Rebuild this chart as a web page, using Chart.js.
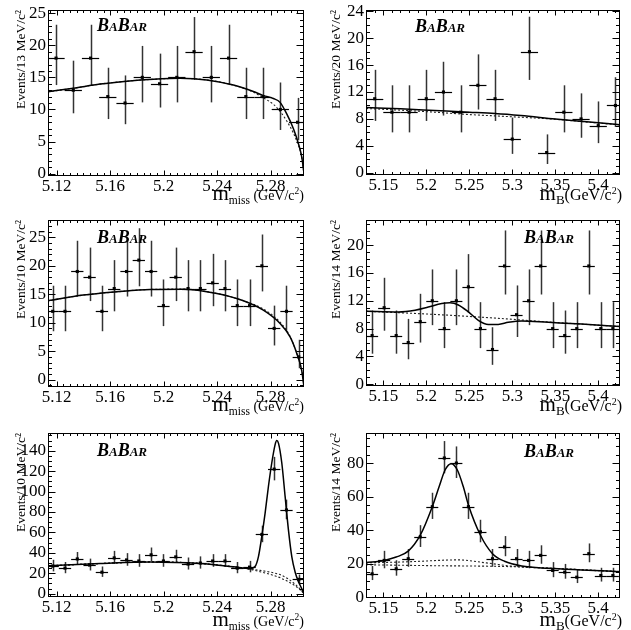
<!DOCTYPE html>
<html>
<head>
<meta charset="utf-8">
<script src="https://cdn.jsdelivr.net/npm/chart.js@4.4.1/dist/chart.umd.min.js"></script>
<style>
  body { margin: 0; background: #fff; }
  #wrap { position: relative; width: 631px; height: 630px; background: #fff; }
  canvas { position: absolute; }
</style>
</head>
<body>
<div id="wrap">
  <canvas id="c1" width="315" height="210" style="left:0;top:0"></canvas>
  <canvas id="c2" width="316" height="210" style="left:315px;top:0"></canvas>
  <canvas id="c3" width="315" height="210" style="left:0;top:210px"></canvas>
  <canvas id="c4" width="316" height="210" style="left:315px;top:210px"></canvas>
  <canvas id="c5" width="315" height="210" style="left:0;top:420px"></canvas>
  <canvas id="c6" width="316" height="210" style="left:315px;top:420px"></canvas>
</div>
<script>
// tick labels
const missTicks = [5.12, 5.16, 5.2, 5.24, 5.28];
const mbTicks = [5.15, 5.2, 5.25, 5.3, 5.35, 5.4];
const p1YTicks = [0, 5, 10, 15, 20, 25];
const p2YTicks = [0, 4, 8, 12, 16, 20, 24];
const p3YTicks = [0, 5, 10, 15, 20, 25];
const p4YTicks = [0, 4, 8, 12, 16, 20];
const p5YTicks = [0, 20, 40, 60, 80, 100, 120, 140];
const p6YTicks = [0, 20, 40, 60, 80];

// top left: m_miss, 13 MeV bins
const p1X = [5.1195, 5.1324, 5.1453, 5.1582, 5.1711, 5.1840, 5.1969, 5.2098, 5.2227, 5.2356, 5.2485, 5.2614, 5.2743, 5.2872, 5.3001];
const p1Y = [18, 13, 18, 12, 11, 15, 14, 15, 19, 15, 18, 12, 12, 10, 8];
const p1Lo = [13.8, 9.4, 13.8, 8.5, 7.7, 11.1, 10.3, 11.1, 14.6, 11.1, 13.8, 8.5, 8.5, 6.8, 5.2];
const p1Hi = [23.2, 17.6, 23.2, 16.5, 15.3, 19.9, 18.7, 19.9, 24.4, 19.9, 23.2, 16.5, 16.5, 14.2, 11.8];
const p1FitX = [5.1135, 5.1324, 5.1524, 5.1724, 5.1923, 5.2122, 5.2322, 5.2521, 5.2671, 5.2746, 5.2820, 5.2870, 5.2920, 5.2970, 5.3007, 5.3032, 5.3049];
const p1FitY = [12.76, 13.3, 13.95, 14.4, 14.7, 14.85, 14.6, 13.8, 12.8, 12.15, 11.7, 11.1, 9.3, 7.0, 4.7, 2.6, 0];
const p1BkgY = [12.76, 13.3, 13.95, 14.4, 14.7, 14.85, 14.6, 13.8, 12.7, 11.8, 10.8, 9.7, 8.2, 6.3, 4.4, 2.6, 0];

// top right: m_B, 20 MeV bins
const p2X = [5.14, 5.16, 5.18, 5.2, 5.22, 5.24, 5.26, 5.28, 5.3, 5.32, 5.34, 5.36, 5.38, 5.4, 5.42];
const p2Y = [11, 9, 9, 11, 12, 9, 13, 11, 5, 18, 3, 9, 8, 7, 10];
const p2Lo = [7.7, 6, 6, 7.7, 8.5, 6, 9.4, 7.7, 2.8, 13.8, 1.3, 6, 5.2, 4.4, 6.8];
const p2Hi = [15.3, 13, 13, 15.3, 16.5, 13, 17.6, 15.3, 8.2, 23.2, 5.7, 13, 11.8, 10.6, 14.2];
const p2FitX = [5.13, 5.17, 5.21, 5.25, 5.28, 5.31, 5.35, 5.39, 5.4253];
const p2FitY = [9.7, 9.5, 9.25, 9.0, 8.8, 8.5, 8.0, 7.55, 7.15];
const p2BkgY = [9.55, 9.3, 9.0, 8.65, 8.45, 8.25, 7.95, 7.5, 7.1];

// middle left: m_miss, 10 MeV bins
const p3X = [5.1170, 5.1262, 5.1354, 5.1446, 5.1538, 5.1630, 5.1722, 5.1814, 5.1906, 5.1998, 5.2090, 5.2182, 5.2274, 5.2366, 5.2458, 5.2550, 5.2642, 5.2734, 5.2826, 5.2918, 5.3010];
const p3Y = [12, 12, 19, 18, 12, 16, 19, 21, 19, 13, 18, 16, 16, 17, 16, 13, 13, 20, 9, 12, 4];
const p3Lo = [8.5, 8.5, 14.6, 13.8, 8.5, 12, 14.6, 16.4, 14.6, 9.4, 13.8, 12, 12, 12.9, 12, 9.4, 9.4, 15.5, 6, 8.5, 2];
const p3Hi = [16.5, 16.5, 24.4, 23.2, 16.5, 21, 24.4, 26.6, 24.4, 17.6, 23.2, 21, 21, 22.1, 21, 17.6, 17.6, 25.5, 13, 16.5, 7];
const p3FitX = [5.1135, 5.1399, 5.1649, 5.1898, 5.2147, 5.2397, 5.2596, 5.2745, 5.2870, 5.2945, 5.2995, 5.3032, 5.3049];
const p3FitY = [13.85, 14.85, 15.43, 15.85, 15.9, 15.14, 13.85, 12.2, 9.86, 7.5, 4.6, 1.6, -1.3];
const p3BkgY = [13.85, 14.85, 15.43, 15.85, 15.9, 15.14, 13.85, 12.4, 10.1, 7.6, 4.6, 1.6, -1.3];

// middle right: m_B, 14 MeV bins
const p4X = [5.137, 5.151, 5.165, 5.179, 5.193, 5.207, 5.221, 5.235, 5.249, 5.263, 5.277, 5.291, 5.305, 5.319, 5.333, 5.347, 5.361, 5.375, 5.389, 5.403, 5.417];
const p4Y = [7, 11, 7, 6, 9, 12, 8, 12, 14, 8, 5, 17, 10, 12, 17, 8, 7, 8, 17, 8, 8];
const p4Lo = [4.4, 7.7, 4.4, 3.6, 6, 8.5, 5.2, 8.5, 10.3, 5.2, 2.8, 12.9, 6.8, 8.5, 12.9, 5.2, 4.4, 5.2, 12.9, 5.2, 5.2];
const p4Hi = [10.6, 15.3, 10.6, 9.4, 13, 16.5, 11.8, 16.5, 18.7, 11.8, 8.2, 22.1, 14.2, 16.5, 22.1, 11.8, 10.6, 11.8, 22.1, 11.8, 11.8];
const p4FitX = [5.13, 5.1675, 5.187, 5.2023, 5.218, 5.2276, 5.2373, 5.249, 5.2605, 5.2721, 5.2837, 5.2954, 5.311, 5.342, 5.3807, 5.4253];
const p4FitY = [10.5, 10.4, 10.65, 11.1, 11.6, 11.7, 11.4, 10.4, 9.2, 8.6, 8.6, 8.9, 9.1, 8.9, 8.65, 8.3];
const p4BkgX = [5.13, 5.2, 5.257, 5.31, 5.342, 5.3807, 5.4253];
const p4BkgY = [10.5, 10.1, 9.7, 9.25, 8.95, 8.65, 8.3];

// bottom left: m_miss, 10 MeV bins, signal peak
const p5X = p3X;
const p5Y = [27, 25, 34, 28, 21, 35, 33, 32, 38, 32, 36, 29, 30, 32, 32, 25, 26, 58, 122, 82, 14];
const p5Lo = [21.8, 20, 28.2, 22.7, 16.4, 29.1, 27.3, 26.3, 31.8, 26.3, 30, 23.6, 24.5, 26.3, 26.3, 20, 20.9, 50.4, 111, 72.9, 10.3];
const p5Hi = [33.2, 31, 40.8, 34.3, 26.6, 41.9, 39.7, 38.7, 45.2, 38.7, 43, 35.4, 36.5, 38.7, 38.7, 31, 32.1, 66.6, 134, 92.1, 18.7];
const p5FitX = [5.1135, 5.1524, 5.1898, 5.2272, 5.2521, 5.2647, 5.2683, 5.2708, 5.2733, 5.2758, 5.2783, 5.2808, 5.2833, 5.2845, 5.2858, 5.2883, 5.2908, 5.2933, 5.2958, 5.2983, 5.3008, 5.3032, 5.3049];
const p5FitY = [27.2, 29.5, 31.1, 29.6, 26.3, 24.5, 26.5, 36, 55.7, 78.7, 105, 128, 146, 150, 147.5, 128, 95, 62, 36, 21, 11.5, 5, 0];
const p5BkgX = [5.1135, 5.1524, 5.1898, 5.2272, 5.2521, 5.2647, 5.272, 5.278, 5.284, 5.288, 5.293, 5.298, 5.302, 5.3049];
const p5BkgAY = [27.2, 29.5, 31.1, 29.6, 26.3, 24.0, 22.8, 21.5, 19.8, 18, 14.5, 9.5, 4.5, 0];
const p5BkgBY = [27.2, 29.5, 31.1, 29.6, 26.3, 23.8, 21.5, 19.5, 17.0, 15, 11.8, 7.8, 3.8, 0];

// bottom right: m_B, 14 MeV bins, signal peak
const p6X = p4X;
const p6Y = [14, 22, 17, 23, 36, 54, 83, 80, 54, 39, 23, 30, 23, 22, 25, 16, 15, 12, 26, 13, 13];
const p6Lo = [10.3, 17.3, 12.9, 18.2, 30, 46.7, 73.9, 71.1, 46.7, 32.8, 18.2, 24.5, 18.2, 17.3, 20, 12, 11.1, 8.5, 20.9, 9.4, 9.4];
const p6Hi = [18.7, 27.7, 22.1, 28.8, 43, 62.3, 93.1, 89.9, 62.3, 46.2, 28.8, 36.5, 28.8, 27.7, 31, 21, 19.9, 16.5, 32.1, 17.6, 17.6];
const p6FitX = [5.13, 5.151, 5.165, 5.179, 5.193, 5.207, 5.215, 5.222, 5.229, 5.236, 5.243, 5.249, 5.263, 5.277, 5.291, 5.311, 5.342, 5.3807, 5.4253];
const p6FitY = [20.7, 22, 24, 27.5, 37, 54, 66, 76, 79.6, 76, 66, 55, 37, 26, 21.5, 18.7, 17.3, 16.3, 15.3];
const p6BkgAX = [5.13, 5.18, 5.237, 5.27, 5.303, 5.35, 5.4253];
const p6BkgAY = [20.5, 21.2, 22.3, 20.5, 18.4, 17.2, 15.4];
const p6BkgBX = [5.13, 5.2, 5.303, 5.4253];
const p6BkgBY = [19.4, 18.9, 18.2, 15.2];

const SERIF = '"Liberation Serif", "Times New Roman", serif';
const pairs = (xs, ys) => xs.map((x, i) => ({ x, y: ys[i] }));

// data error bars, drawn under the markers
const errorBars = {
  id: 'errorBars',
  beforeDatasetsDraw(chart) {
    const { ctx, chartArea: a, scales: { x, y } } = chart;
    ctx.save();
    ctx.beginPath();
    ctx.rect(a.left, a.top, a.right - a.left, a.bottom - a.top);
    ctx.clip();
    chart.data.datasets.forEach(ds => {
      if (!ds.yLo) return;
      ds.data.forEach((p, i) => {
        const px = Math.round(x.getPixelForValue(p.x)) + 0.5;
        const py = Math.round(y.getPixelForValue(p.y)) + 0.5;
        ctx.strokeStyle = '#333';
        ctx.lineWidth = 1.5;
        ctx.beginPath();
        ctx.moveTo(px, y.getPixelForValue(ds.yLo[i]));
        ctx.lineTo(px, y.getPixelForValue(ds.yHi[i]));
        ctx.stroke();
        ctx.strokeStyle = '#000';
        ctx.lineWidth = 1.2;
        ctx.beginPath();
        ctx.moveTo(x.getPixelForValue(p.x - ds.xHalf), py);
        ctx.lineTo(x.getPixelForValue(p.x + ds.xHalf), py);
        ctx.stroke();
      });
    });
    ctx.restore();
  }
};

// ROOT style frame: box, inward ticks on four sides, logo and x title
const rootFrame = {
  id: 'rootFrame',
  afterDraw(chart, args, o) {
    const { ctx, chartArea: a, scales: { x, y } } = chart;
    ctx.save();
    ctx.strokeStyle = '#000';
    ctx.lineWidth = 1;
    const l = Math.round(a.left) + 0.5, r = Math.round(a.right) - 0.5;
    const t = Math.round(a.top) + 0.5, b = Math.round(a.bottom) - 0.5;
    ctx.strokeRect(l, t, r - l, b - t);
    const isMajor = (s, v) => s.ticks.some(tk => Math.abs(tk.value - v) < 1e-7);
    ctx.beginPath();
    for (let k = Math.ceil(x.min / o.xMinor - 1e-6); k <= Math.floor(x.max / o.xMinor + 1e-6); k++) {
      const v = k * o.xMinor, px = Math.round(x.getPixelForValue(v)) + 0.5;
      const len = isMajor(x, v) ? 5 : 2.5;
      ctx.moveTo(px, b); ctx.lineTo(px, b - len);
      ctx.moveTo(px, t); ctx.lineTo(px, t + len);
    }
    for (let k = Math.ceil(y.min / o.yMinor - 1e-6); k <= Math.floor(y.max / o.yMinor + 1e-6); k++) {
      const v = k * o.yMinor, py = Math.round(y.getPixelForValue(v)) + 0.5;
      const len = isMajor(y, v) ? 7 : 3.5;
      ctx.moveTo(l, py); ctx.lineTo(l + len, py);
      ctx.moveTo(r, py); ctx.lineTo(r - len, py);
    }
    ctx.stroke();

    ctx.fillStyle = '#000';
    ctx.textBaseline = 'alphabetic';
    ctx.textAlign = 'left';
    let cx = o.logo[0];
    [['B', 18], ['A', 13], ['B', 18], ['AR', 13]].forEach(([s, size]) => {
      ctx.font = `italic bold ${size}px ${SERIF}`;
      ctx.fillText(s, cx, o.logo[1]);
      cx += ctx.measureText(s).width;
    });

    const parts = o.xTitle.parts;
    let total = 0;
    parts.forEach(p => { ctx.font = `${p[1]}px ${SERIF}`; total += ctx.measureText(p[0]).width; });
    cx = o.xTitle.right - total;
    parts.forEach(p => {
      ctx.font = `${p[1]}px ${SERIF}`;
      ctx.fillText(p[0], cx, o.xTitle.base + p[2]);
      cx += ctx.measureText(p[0]).width;
    });
    ctx.restore();
  }
};

const missTitle = [['m', 21, 0], ['miss', 11.5, 4], [' (GeV/c', 14, 0], ['2', 9.5, -6], [')', 14, 0]];
const mbTitle = [['m', 21, 0], ['B', 13, 4], ['(GeV/c', 16, 0], ['2', 10, -6.5], [')', 16, 0]];

function buildPanel(id, p) {
  const canvas = document.getElementById(id);
  const W = canvas.width, H = canvas.height;
  const sets = [
    { data: pairs(p.x, p.y), yLo: p.lo, yHi: p.hi, xHalf: p.half, showLine: false,
      pointStyle: 'rect', pointRadius: 2.2, backgroundColor: '#000', borderWidth: 0 },
    { data: pairs(p.fitX, p.fitY), showLine: true, borderColor: '#000', borderWidth: 1.5,
      pointRadius: 0, cubicInterpolationMode: 'monotone' }
  ];
  p.bkg.forEach(bk => sets.push({
    data: pairs(bk[0], bk[1]), showLine: true, borderColor: '#222', borderWidth: 1.1,
    borderDash: [2, 2], pointRadius: 0, cubicInterpolationMode: 'monotone'
  }));
  return new Chart(canvas, {
    type: 'scatter',
    data: { datasets: sets },
    options: {
      responsive: false,
      animation: false,
      events: [],
      devicePixelRatio: 1,
      layout: { autoPadding: false, padding: { left: 0, top: p.box[2], right: W - p.box[1], bottom: 0 } },
      plugins: {
        legend: { display: false },
        tooltip: { enabled: false },
        rootFrame: { xMinor: p.xMinor, yMinor: p.yMinor, logo: p.logo, xTitle: p.xTitle }
      },
      scales: {
        x: {
          type: 'linear', min: p.xRange[0], max: p.xRange[1],
          afterBuildTicks: s => { s.ticks = p.xTicks.map(v => ({ value: v })); },
          afterFit: s => { s.height = H - p.box[3]; s.paddingLeft = 0; s.paddingRight = 0; },
          grid: { display: false, drawTicks: false },
          border: { display: false },
          ticks: { color: '#000', font: { family: SERIF, size: 17 }, padding: 0,
                   maxRotation: 0, autoSkip: false, callback: v => String(v) }
        },
        y: {
          type: 'linear', min: p.yRange[0], max: p.yRange[1],
          afterBuildTicks: s => { s.ticks = p.yTicks.map(v => ({ value: v })); },
          afterFit: s => { s.width = p.box[0]; s.paddingTop = 0; s.paddingBottom = 0; },
          grid: { display: false, drawTicks: false },
          border: { display: false },
          ticks: { color: '#000', font: { family: SERIF, size: 17 }, padding: 2, callback: v => String(v) },
          title: { display: true, text: p.yTitle, align: 'end', color: '#000',
                   font: { family: SERIF, size: 13.5 }, padding: { top: 13, bottom: 0 } }
        }
      }
    },
    plugins: [errorBars, rootFrame]
  });
}

const missRange = [5.1135, 5.3049];
const mbRange = [5.1299, 5.4253];

buildPanel('c1', {
  x: p1X, y: p1Y, lo: p1Lo, hi: p1Hi, half: 0.00645,
  fitX: p1FitX, fitY: p1FitY, bkg: [[p1FitX, p1BkgY]],
  box: [48, 304, 10, 176], xRange: missRange, yRange: [-0.375, 25.5],
  xTicks: missTicks, yTicks: p1YTicks, xMinor: 0.005, yMinor: 1,
  yTitle: 'Events/13 MeV/c²', logo: [97, 31], xTitle: { parts: missTitle, right: 304, base: 200 }
});
buildPanel('c2', {
  x: p2X, y: p2Y, lo: p2Lo, hi: p2Hi, half: 0.01,
  fitX: p2FitX, fitY: p2FitY, bkg: [[p2FitX, p2BkgY]],
  box: [51, 305, 10, 175], xRange: mbRange, yRange: [-0.34, 24.2],
  xTicks: mbTicks, yTicks: p2YTicks, xMinor: 0.01, yMinor: 1,
  yTitle: 'Events/20 MeV/c²', logo: [100, 32], xTitle: { parts: mbTitle, right: 307, base: 200 }
});
buildPanel('c3', {
  x: p3X, y: p3Y, lo: p3Lo, hi: p3Hi, half: 0.0046,
  fitX: p3FitX, fitY: p3FitY, bkg: [[p3FitX, p3BkgY]],
  box: [48, 304, 10, 177], xRange: missRange, yRange: [-1.3, 28.05],
  xTicks: missTicks, yTicks: p3YTicks, xMinor: 0.005, yMinor: 1,
  yTitle: 'Events/10 MeV/c²', logo: [97, 33], xTitle: { parts: missTitle, right: 304, base: 201 }
});
buildPanel('c4', {
  x: p4X, y: p4Y, lo: p4Lo, hi: p4Hi, half: 0.007,
  fitX: p4FitX, fitY: p4FitY, bkg: [[p4BkgX, p4BkgY]],
  box: [51, 305, 10, 176], xRange: mbRange, yRange: [-0.24, 23.6],
  xTicks: mbTicks, yTicks: p4YTicks, xMinor: 0.01, yMinor: 1,
  yTitle: 'Events/14 MeV/c²', logo: [209, 33], xTitle: { parts: mbTitle, right: 307, base: 201 }
});
buildPanel('c5', {
  x: p5X, y: p5Y, lo: p5Lo, hi: p5Hi, half: 0.0046,
  fitX: p5FitX, fitY: p5FitY, bkg: [[p5BkgX, p5BkgAY], [p5BkgX, p5BkgBY]],
  box: [48, 304, 13, 177], xRange: missRange, yRange: [-3.3, 157.4],
  xTicks: missTicks, yTicks: p5YTicks, xMinor: 0.005, yMinor: 5,
  yTitle: 'Events/10 MeV/c²', logo: [97, 36], xTitle: { parts: missTitle, right: 304, base: 206 }
});
buildPanel('c6', {
  x: p6X, y: p6Y, lo: p6Lo, hi: p6Hi, half: 0.007,
  fitX: p6FitX, fitY: p6FitY, bkg: [[p6BkgAX, p6BkgAY], [p6BkgBX, p6BkgBY]],
  box: [51, 305, 13, 178], xRange: mbRange, yRange: [-0.4, 97.9],
  xTicks: mbTicks, yTicks: p6YTicks, xMinor: 0.01, yMinor: 5,
  yTitle: 'Events/14 MeV/c²', logo: [209, 37], xTitle: { parts: mbTitle, right: 307, base: 206 }
});
</script>
</body>
</html>
